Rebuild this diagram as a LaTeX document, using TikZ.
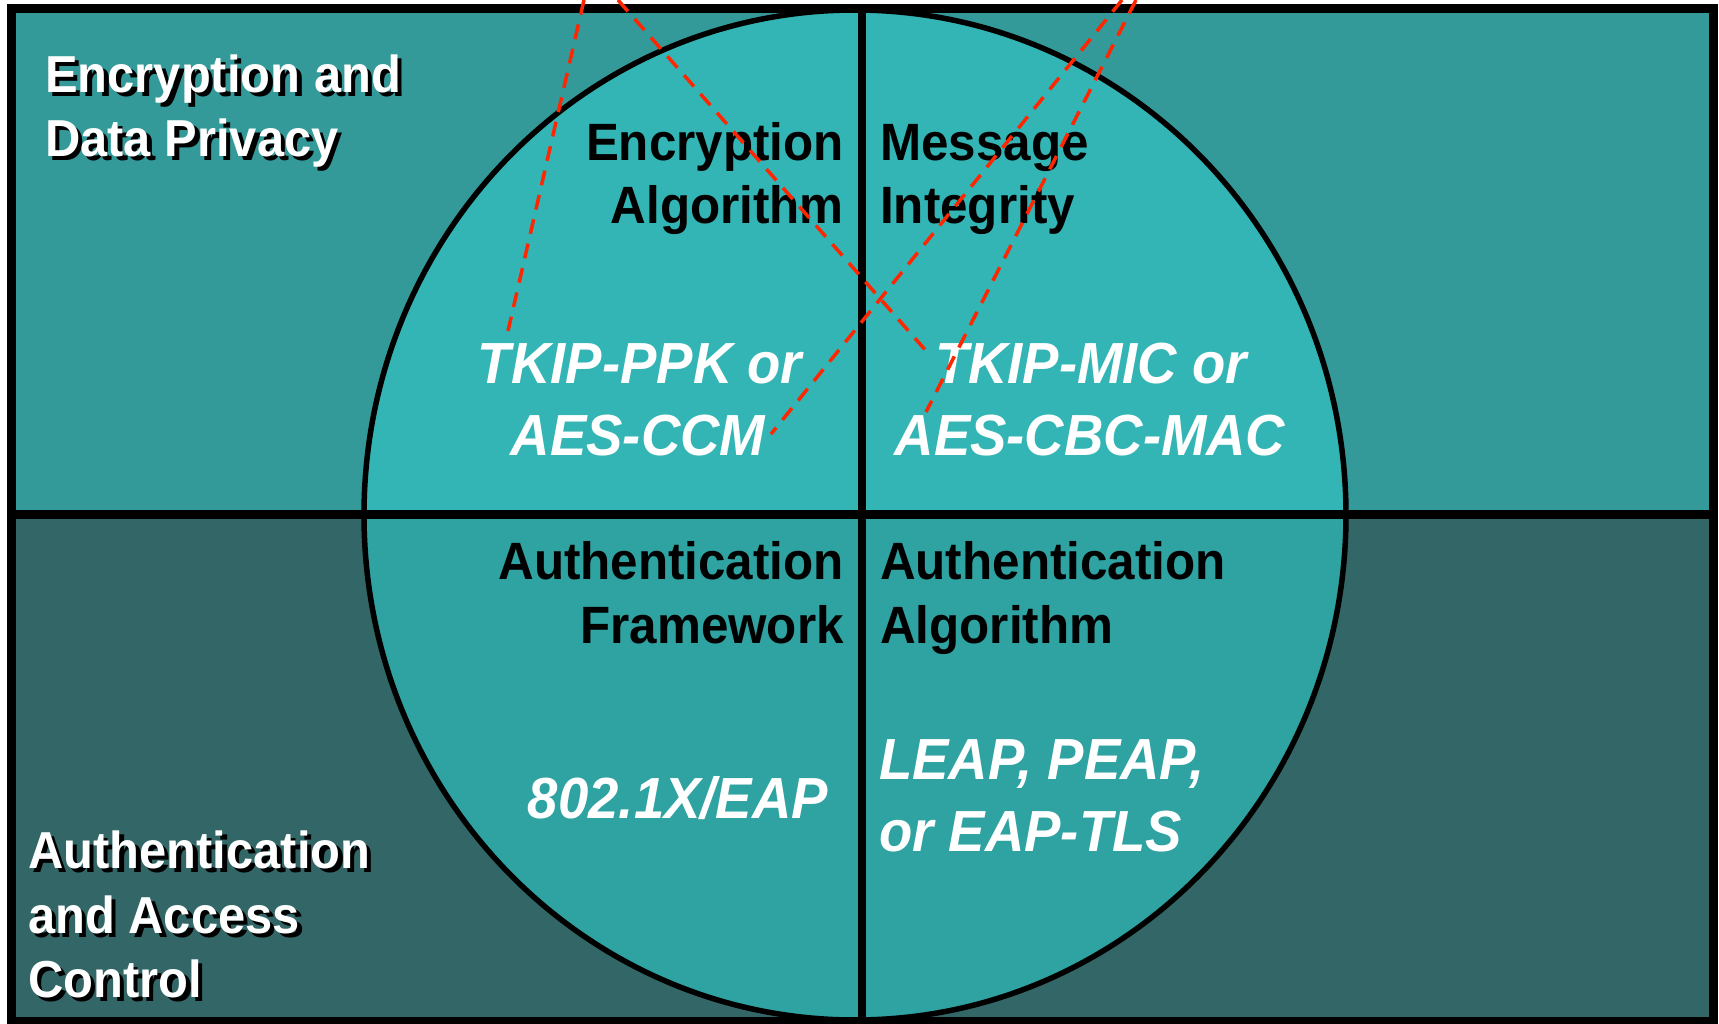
\documentclass[tikz,border=0pt]{standalone}
\usepackage{fontspec}
\setmainfont{Liberation Sans}[FakeStretch=0.94]
\definecolor{topbg}{RGB}{52,153,153}
\definecolor{botbg}{RGB}{51,102,102}
\definecolor{ctop}{RGB}{52,181,181}
\definecolor{cbot}{RGB}{47,162,162}
\definecolor{redl}{RGB}{255,38,0}
\tikzset{
  blk/.style={font=\fontsize{52.5}{63}\selectfont\bfseries, text=black, inner sep=0pt},
  wit/.style={font=\fontsize{58}{70}\selectfont\bfseries\itshape, text=white, inner sep=0pt},
  crn/.style={font=\fontsize{52}{64}\selectfont\bfseries, inner sep=0pt, anchor=base west, text=white},
  redline/.style={draw=redl, line width=3.5pt, dash pattern=on 15pt off 10pt},
  blackline/.style={draw=black, line width=8.5pt},
}
\newcommand{\shtxt}[1]{\makebox[0pt][l]{\hspace*{4.5pt}\raisebox{-4.5pt}{\textcolor{black}{#1}}}#1}
\begin{document}
\begin{tikzpicture}[x=1pt,y=-1pt]
\useasboundingbox (0,0) rectangle (1719,1023);
\fill[white] (0,0) rectangle (1719,1023);
% backgrounds
\fill[topbg] (11,8.5) rectangle (1713,514.5);
\fill[botbg] (11,514.5) rectangle (1713,1021);
% circle halves
\begin{scope}
  \clip (0,0) rectangle (1719,514.5);
  \fill[ctop] (855,515) ellipse [x radius=491pt, y radius=505pt];
\end{scope}
\begin{scope}
  \clip (0,514.5) rectangle (1719,1023);
  \fill[cbot] (855,515) ellipse [x radius=491pt, y radius=505pt];
\end{scope}
\draw[line width=5.5pt] (855,515) ellipse [x radius=491pt, y radius=505pt];
% dividers and frame
\draw[blackline] (11,514.5) -- (1713,514.5);
\draw[blackline] (862,8.5) -- (862,1021);
\draw[line width=9pt] (11,8.5) rectangle (1713,1021);
% quadrant labels (black)
\node[blk, anchor=base east] (ea1) at (844,160) {Encryption};
\node[blk, anchor=base east] (ea2) at (844,223) {Algorithm};
\node[blk, anchor=base west] (mi1) at (880,160) {Message};
\node[blk, anchor=base west] (mi2) at (880,223) {Integrity};
\node[blk, anchor=base east] (af1) at (844,579) {Authentication};
\node[blk, anchor=base east] (af2) at (844,643) {Framework};
\node[blk, anchor=base west] (aa1) at (880,579) {Authentication};
\node[blk, anchor=base west] (aa2) at (880,643) {Algorithm};
% white italic values
\node[wit, anchor=base] (tk1) at (640,383) {TKIP-PPK or};
\node[wit, anchor=base] (tk2) at (638,455) {AES-CCM};
\node[wit, anchor=base] (tm1) at (1091,383) {TKIP-MIC or};
\node[wit, anchor=base] (tm2) at (1090,455) {AES-CBC-MAC};
\node[wit, anchor=base] (eap) at (678,818) {802.1X/EAP};
\node[wit, anchor=base west] (lp1) at (879,779) {LEAP, PEAP,};
\node[wit, anchor=base west] (lp2) at (879,851) {or EAP-TLS};
% corner labels with shadow
\node[crn] (enc1) at (45,92) {\shtxt{Encryption and}};
\node[crn] (enc2) at (45,156) {\shtxt{Data Privacy}};
\node[crn] (aut1) at (28,868) {\shtxt{Authentication}};
\node[crn] (aut2) at (28,933) {\shtxt{and Access}};
\node[crn] (aut3) at (28,997) {\shtxt{Control}};
% red dashed lines
\coordinate (ra0) at (584,0);   \coordinate (ra1) at (508,331);
\coordinate (rb0) at (618,0);   \coordinate (rb1) at (927,352);
\coordinate (rc0) at (1122,0);  \coordinate (rc1) at (771,434);
\coordinate (rd0) at (1136,0);  \coordinate (rd1) at (926,412);
\draw[redline] (ra0) -- (ra1);
\draw[redline] (rb0) -- (rb1);
\draw[redline] (rc0) -- (rc1);
\draw[redline] (rd0) -- (rd1);
\end{tikzpicture}
\end{document}
